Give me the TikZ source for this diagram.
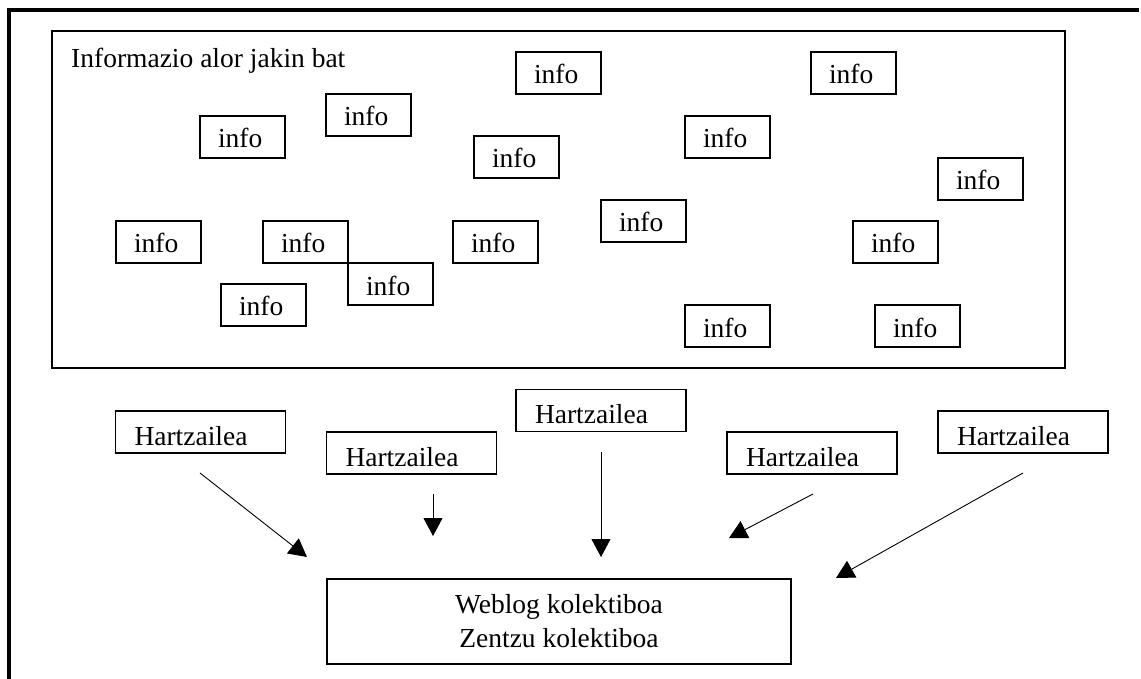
\documentclass[tikz,border=0pt]{standalone}
\usepackage{fontspec}
\setmainfont{Liberation Serif}
\usetikzlibrary{arrows.meta}
\begin{document}
\begin{tikzpicture}[x=1pt,y=-1pt,
  every node/.style={font=\fontsize{27.5}{34}\selectfont},
  infobox/.style={draw, line width=1.3pt, minimum height=42pt, inner ysep=0pt,
    inner xsep=18pt, text width=49pt, align=left, text height=22pt, text depth=0pt},
  hbox/.style={draw, line width=1.3pt, minimum height=42pt, inner ysep=0pt,
    inner xsep=19pt, text width=132pt, align=left, text height=26pt, text depth=0pt},
  arr/.style={line width=0.9pt, -{Triangle[length=18pt,width=19pt]}},
]
\useasboundingbox (0,0) rectangle (1141,679);
% outer frame (left and top only)
\draw[line width=3.5pt, line join=miter] (9,679) -- (9,10) -- (1139,10);
% information field
\node[draw, line width=1.3pt, minimum width=1013pt, minimum height=337pt, inner sep=0pt] (field) at (558.5,199.5) {};
\node[anchor=base west, inner sep=0pt] (title) at (71,68) {Informazio alor jakin bat};
% info boxes (centres)
\node[infobox] (iA) at (242.5,137) {info};
\node[infobox] (iB) at (368.5,115) {info};
\node[infobox] (iC) at (158.5,242) {info};
\node[infobox] (iD) at (305.5,242) {info};
\node[infobox] (iE) at (390.5,284) {info};
\node[infobox] (iF) at (263.5,305) {info};
\node[infobox] (iG) at (558.5,73) {info};
\node[infobox] (iH) at (516.5,157) {info};
\node[infobox] (iI) at (727.5,137) {info};
\node[infobox] (iJ) at (495.5,242) {info};
\node[infobox] (iK) at (643.5,221) {info};
\node[infobox] (iL) at (727.5,326) {info};
\node[infobox] (iM) at (853.5,73) {info};
\node[infobox] (iN) at (980.5,179) {info};
\node[infobox] (iO) at (895.5,242) {info};
\node[infobox] (iP) at (917.5,326) {info};
% receivers
\node[hbox] (h1) at (200.5,432) {Hartzailea};
\node[hbox] (h2) at (411.5,453) {Hartzailea};
\node[hbox] (h3) at (601,410.5) {Hartzailea};
\node[hbox] (h4) at (812,453) {Hartzailea};
\node[hbox] (h5) at (1023,432) {Hartzailea};
% collective weblog
\node[draw, line width=1.3pt, minimum width=464pt, minimum height=85pt, inner sep=0pt, align=center] (blog) at (559,621.5) {Weblog kolektiboa\\Zentzu kolektiboa};
% arrow ends
\coordinate (s1) at (200,473);  \coordinate (e1) at (307,557);
\coordinate (s2) at (433,494);  \coordinate (e2) at (433,536);
\coordinate (s3) at (601,452);  \coordinate (e3) at (601,557);
\coordinate (s4) at (813,494);  \coordinate (e4) at (729,538);
\coordinate (s5) at (1023,473); \coordinate (e5) at (836,578);
\draw[arr] (s1) -- (e1);
\draw[arr] (s2) -- (e2);
\draw[arr] (s3) -- (e3);
\draw[arr] (s4) -- (e4);
\draw[arr] (s5) -- (e5);
\end{tikzpicture}
\end{document}
